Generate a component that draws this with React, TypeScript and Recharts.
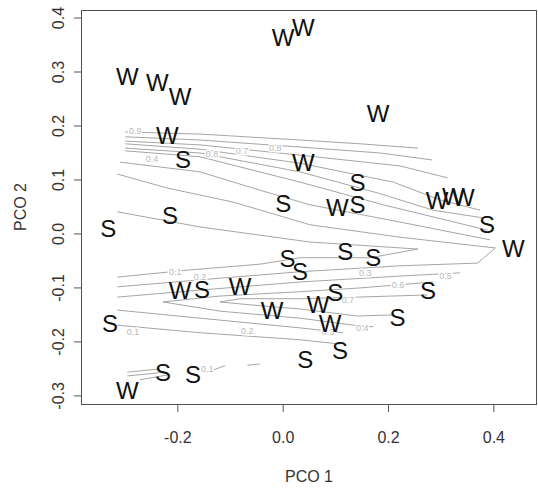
import { Label, Scatter, ScatterChart, XAxis, YAxis } from 'recharts';

// site scores on the first two principal coordinates
const wPco1 = [0, 0.038, -0.296, -0.239, -0.196, 0.18, -0.22, 0.038, 0.103, 0.292, 0.323, 0.342, 0.437, -0.196, -0.082, -0.021, 0.066, 0.089, -0.296];
const wPco2 = [0.365, 0.383, 0.291, 0.281, 0.254, 0.224, 0.183, 0.133, 0.05, 0.063, 0.07, 0.067, -0.026, -0.104, -0.098, -0.141, -0.131, -0.165, -0.289];
const sPco1 = [-0.19, 0.141, 0.141, 0.387, 0.118, 0.171, 0.008, 0.032, -0.215, -0.332, 0, -0.154, -0.329, -0.228, -0.171, 0.099, 0.108, 0.042, 0.217, 0.275];
const sPco2 = [0.139, 0.096, 0.054, 0.017, -0.033, -0.043, -0.046, -0.069, 0.035, 0.011, 0.057, -0.102, -0.165, -0.256, -0.261, -0.109, -0.215, -0.233, -0.154, -0.104];

// fitted surface contours, [pco1, pco2] vertices
const contours: [number, number][][] = [
  [[-0.3, 0.189], [-0.158, 0.185], [0.032, 0.174], [0.146, 0.167], [0.256, 0.159]],
  [[-0.3, 0.18], [-0.158, 0.174], [0.032, 0.161], [0.184, 0.15], [0.283, 0.137]],
  [[-0.3, 0.172], [-0.158, 0.165], [0.032, 0.146], [0.222, 0.126], [0.312, 0.104]],
  [[-0.3, 0.167], [-0.158, 0.157], [0.032, 0.131], [0.209, 0.096], [0.298, 0.063], [0.374, 0.044]],
  [[-0.3, 0.159], [-0.158, 0.15], [0.032, 0.115], [0.179, 0.076], [0.285, 0.044], [0.378, 0.03]],
  [[-0.3, 0.154], [-0.158, 0.143], [0.032, 0.096], [0.19, 0.054], [0.388, 0.007]],
  [[-0.31, 0.133], [-0.158, 0.115], [-0.044, 0.081], [0.051, 0.054], [0.222, 0.022], [0.393, -0.011]],
  [[-0.315, 0.111], [-0.22, 0.085], [-0.095, 0.059], [0.051, 0.017], [0.222, -0.006], [0.403, -0.026],
    [0.369, -0.054], [0.222, -0.059], [0.032, -0.07], [-0.158, -0.085], [-0.315, -0.098]],
  [[-0.315, 0.041], [-0.158, 0.013], [0.051, -0.015], [0.256, -0.028], [0.165, -0.044], [0.032, -0.044],
    [-0.044, -0.056], [-0.182, -0.067], [-0.315, -0.08]],
  [[-0.315, -0.117], [-0.158, -0.104], [0.032, -0.089], [0.222, -0.078], [0.336, -0.072]],
  [[0.285, -0.089], [0.146, -0.1], [0.032, -0.107], [-0.12, -0.115], [-0.228, -0.126], [-0.12, -0.143],
    [0.032, -0.156], [0.141, -0.17], [0.171, -0.172]],
  [[0.274, -0.113], [0.141, -0.117], [0.032, -0.12], [-0.082, -0.12], [-0.12, -0.126], [-0.044, -0.133],
    [0.032, -0.139], [0.141, -0.152], [0.209, -0.15]],
  [[-0.315, -0.141], [-0.158, -0.156], [0.032, -0.174], [0.114, -0.183]],
  [[-0.315, -0.169], [-0.158, -0.183], [0.032, -0.196], [0.108, -0.204]],
  [[-0.296, -0.256], [-0.234, -0.25]],
  [[-0.296, -0.263], [-0.224, -0.256]],
  [[-0.272, -0.27], [-0.218, -0.261]],
  [[-0.133, -0.252], [-0.11, -0.244]],
  [[-0.068, -0.243], [-0.044, -0.241]],
];

const levelText = ['0.9', '0.4', '0.8', '0.7', '0.8', '0.1', '0.2', '0.1', '0.2', '0.3', '0.5', '0.6', '0.7', '0.4', '0.3', '0.1'];
const levelPco1 = [-0.281, -0.249, -0.135, -0.078, -0.015, -0.205, -0.158, -0.285, -0.068, 0.156, 0.308, 0.218, 0.123, 0.15, 0.085, -0.144];
const levelPco2 = [0.191, 0.139, 0.148, 0.154, 0.159, -0.07, -0.08, -0.181, -0.18, -0.072, -0.078, -0.094, -0.122, -0.174, -0.181, -0.25];

const xTicks = [-0.2, 0, 0.2, 0.4];
const yTicks = [-0.3, -0.2, -0.1, 0, 0.1, 0.2, 0.3, 0.4];
const xDomain: [number, number] = [-0.382, 0.48];
const yDomain: [number, number] = [-0.315, 0.413];

const FONT = '"Liberation Sans", Arial, sans-serif';
const W = 538;
const H = 489;
const margin = { top: 11, right: 2, bottom: 0, left: 0 };
const yAxisWidth = 82;
const xAxisHeight = 85;

const wData = wPco1.map((x, i) => ({ x, y: wPco2[i], label: 'W' }));
const sData = sPco1.map((x, i) => ({ x, y: sPco2[i], label: 'S' }));
const levelData = levelText.map((label, i) => ({ x: levelPco1[i], y: levelPco2[i], label }));

const Letter = (p: any) => (
  <text x={p.cx} y={p.cy} dy="0.36em" textAnchor="middle" fontSize={24} fontFamily={FONT} fill="#111">
    {p.payload.label}
  </text>
);

const LevelLabel = (p: any) => (
  <text x={p.cx} y={p.cy} dy="0.35em" textAnchor="middle" fontSize={9} fontFamily={FONT} fill="#b8b8b8"
    stroke="#fff" strokeWidth={3} paintOrder="stroke">
    {p.payload.label}
  </text>
);

const XTick = ({ x, payload }: any) => (
  <text x={x} y={443} textAnchor="middle" fontSize={16} fontFamily={FONT} fill="#333">
    {payload.value.toFixed(1)}
  </text>
);

const YTick = ({ y, payload }: any) => (
  <text transform={`translate(63.75, ${y}) rotate(-90)`} textAnchor="middle" fontSize={16} fontFamily={FONT} fill="#333">
    {payload.value.toFixed(1)}
  </text>
);

export default function App() {
  return (
    <div style={{ position: 'absolute', left: 0, top: 0, width: W, height: H, background: '#fff' }}>
      <ScatterChart width={W} height={H} margin={margin}>
        <XAxis type="number" dataKey="x" domain={xDomain} ticks={xTicks} allowDataOverflow
          height={xAxisHeight} tickSize={8} axisLine={false} tickLine={{ stroke: '#555' }} tick={<XTick />}>
          <Label content={() => (
            <text x={309} y={482} textAnchor="middle" fontSize={16} fontFamily={FONT} fill="#333">PCO 1</text>
          )} />
        </XAxis>
        <YAxis type="number" dataKey="y" domain={yDomain} ticks={yTicks} allowDataOverflow
          width={yAxisWidth} tickSize={8} axisLine={false} tickLine={{ stroke: '#555' }} tick={<YTick />}>
          <Label content={() => (
            <text transform="translate(25.7, 207) rotate(-90)" textAnchor="middle" fontSize={16} fontFamily={FONT} fill="#333">PCO 2</text>
          )} />
        </YAxis>
        {contours.map((c, i) => (
          <Scatter key={`c${i}`} data={c.map(([x, y]) => ({ x, y }))} line={{ stroke: '#a6a6a6', strokeWidth: 1 }}
            lineType="joint" shape={() => <g />} isAnimationActive={false} />
        ))}
        <Scatter data={levelData} shape={LevelLabel} isAnimationActive={false} />
        <Scatter data={wData} shape={Letter} isAnimationActive={false} />
        <Scatter data={sData} shape={Letter} isAnimationActive={false} />
      </ScatterChart>
      {/* frame round the plot region */}
      <div style={{
        position: 'absolute', pointerEvents: 'none', boxSizing: 'border-box',
        left: margin.left + yAxisWidth - 0.75, top: margin.top - 0.75,
        width: W - margin.left - margin.right - yAxisWidth + 1.5,
        height: H - margin.top - margin.bottom - xAxisHeight + 1.5,
        border: '1.5px solid #505050',
      }} />
    </div>
  );
}
